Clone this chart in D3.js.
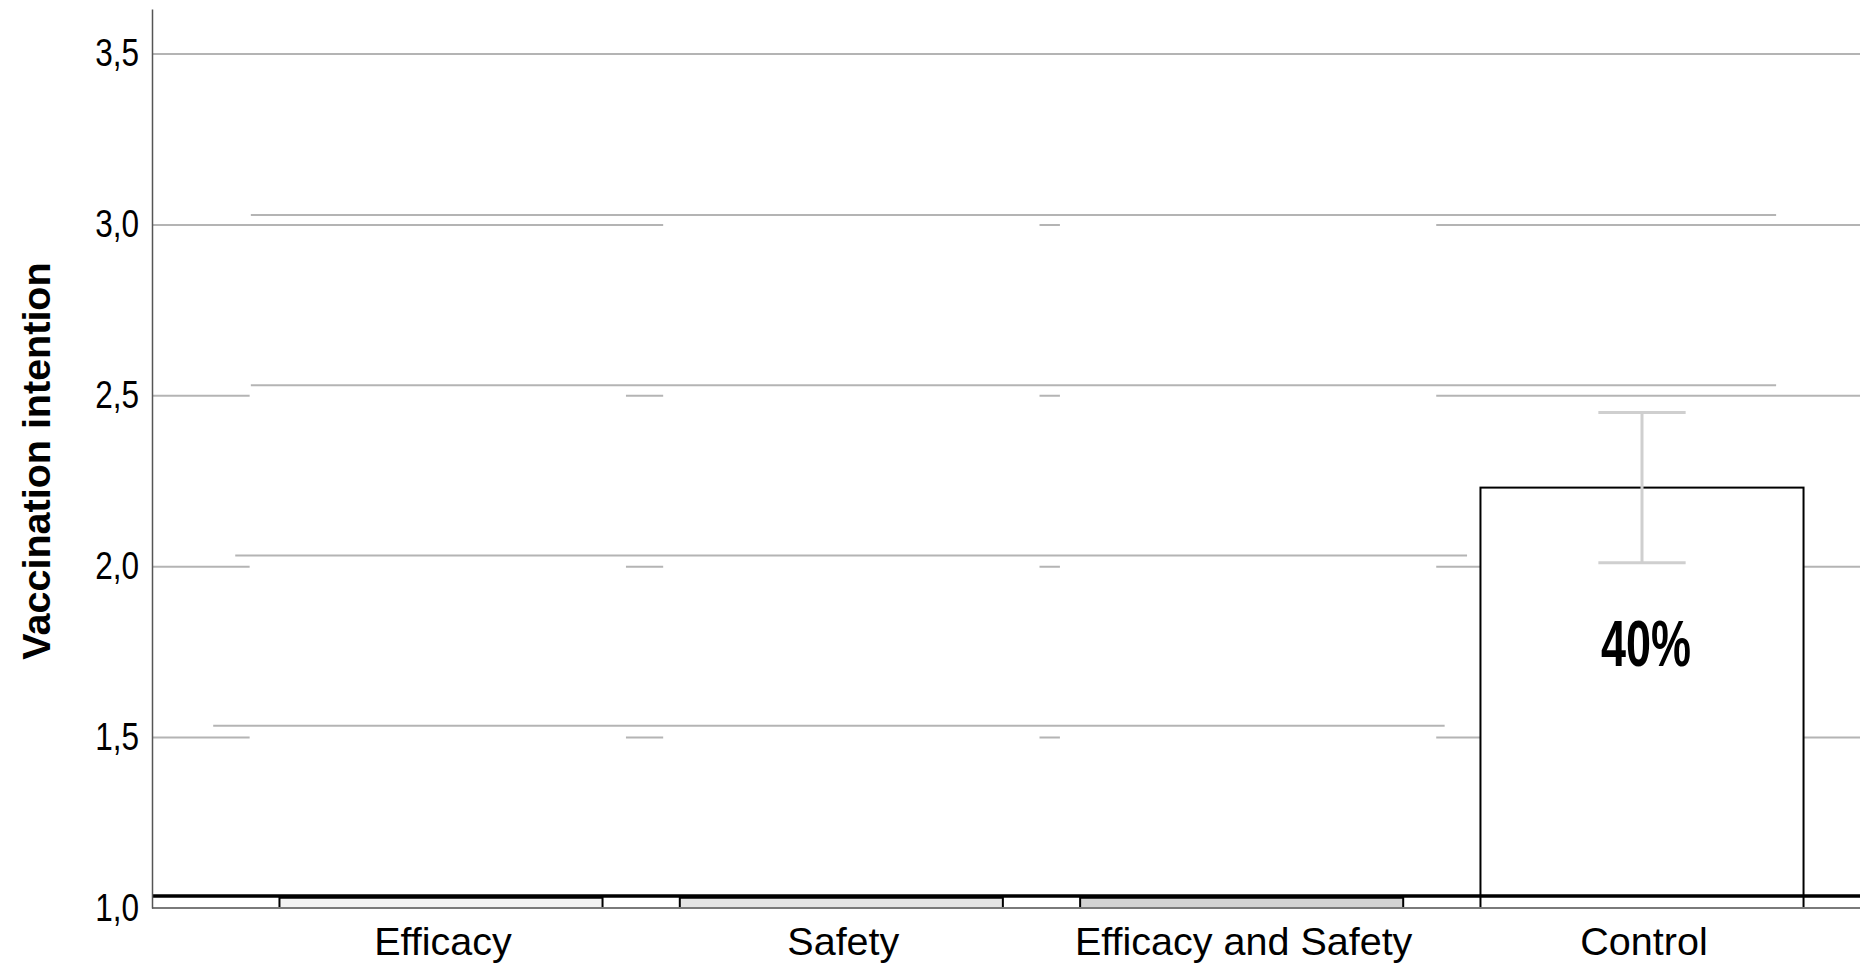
<!DOCTYPE html>
<html>
<head>
<meta charset="utf-8">
<script src="https://cdnjs.cloudflare.com/ajax/libs/d3/7.8.5/d3.min.js"></script>
<style>
  body { margin: 0; background: #fff; }
  svg { display: block; }
</style>
</head>
<body>
<script>
//// Data ///////////////////////////////////////
const categories = ["Efficacy", "Safety", "Efficacy and Safety", "Control"]
const means = [1.03, 1.03, 1.03, 2.23]
const barFills = ["#f2f2f2", "#e4e4e4", "#d3d3d3", "#ffffff"]
const ciLow = [null, null, null, 2.01]
const ciHigh = [null, null, null, 2.45]
const barLabels = ["", "", "", "40%"]
const yTicks = [1.0, 1.5, 2.0, 2.5, 3.0, 3.5]

// second (shifted) layer that SPSS left behind the bars
const layer2Ticks = [3.0, 2.5, 2.0, 1.5]
const layer2From = [-0.475, -0.475, -0.514, -0.569]
const layer2To = [3.335, 3.335, 2.563, 2.507]
// white blank boxes hiding the main gridlines
const blankCenters = [-0.008, 1.025, 2.016]
const blankTops = [2.75, 3.25, 3.25]

//// Layout ///////////////////////////////////////
const WIDTH = 1860
const HEIGHT = 966
const left = 152
const right = 1860
const barHalf = 0.4035
const blankHalf = 0.47
const narrow = 0.83

const svg = d3.select("body").append("svg")
    .attr("width", WIDTH)
    .attr("height", HEIGHT)

// category units -> px
const x = d3.scaleLinear().domain([0, 3]).range([441, 1642])
const y = d3.scaleLinear().domain([1, 3.63]).range([908, 9.1])
const y2 = d3.scaleLinear().domain([1, 3]).range([896, 215])

// main gridlines
const grid = svg.append("g")
    .attr("transform", `translate(${left},0)`)
    .call(d3.axisLeft(y).tickValues(yTicks.slice(1)).tickSize(-(right - left)).tickFormat(""))
grid.select(".domain").remove()
grid.selectAll("line").attr("stroke", "#b4b4b4").attr("stroke-width", 2)

// blank boxes
svg.selectAll("rect.blank")
    .data(blankCenters)
    .join("rect")
    .attr("class", "blank")
    .attr("x", d => x(d - blankHalf))
    .attr("width", 2 * (x(blankHalf) - x(0)))
    .attr("y", (d, i) => y(blankTops[i]))
    .attr("height", (d, i) => y(1.2) - y(blankTops[i]))
    .attr("fill", "#fff")

// shifted gridlines
svg.selectAll("line.l2")
    .data(layer2Ticks)
    .join("line")
    .attr("class", "l2")
    .attr("x1", (d, i) => x(layer2From[i]))
    .attr("x2", (d, i) => x(layer2To[i]))
    .attr("y1", d => y2(d))
    .attr("y2", d => y2(d))
    .attr("stroke", "#b4b4b4")
    .attr("stroke-width", 2)

// bars
svg.selectAll("rect.bar")
    .data(categories)
    .join("rect")
    .attr("class", "bar")
    .attr("x", (d, i) => x(i - barHalf))
    .attr("width", x(barHalf) - x(-barHalf))
    .attr("y", (d, i) => y(means[i]))
    .attr("height", (d, i) => y(1) - y(means[i]))
    .attr("fill", (d, i) => barFills[i])
    .attr("stroke", "#000")
    .attr("stroke-width", 2)

// error bars
const capHalf = 0.109
categories.forEach((c, i) => {
    if (ciLow[i] == null) return
    const g = svg.append("g").attr("stroke", "#cfcfcf").attr("stroke-width", 3)
    g.append("line").attr("x1", x(i)).attr("x2", x(i)).attr("y1", y(ciLow[i])).attr("y2", y(ciHigh[i]))
    g.append("line").attr("x1", x(i - capHalf)).attr("x2", x(i + capHalf)).attr("y1", y(ciLow[i])).attr("y2", y(ciLow[i]))
    g.append("line").attr("x1", x(i - capHalf)).attr("x2", x(i + capHalf)).attr("y1", y(ciHigh[i])).attr("y2", y(ciHigh[i]))
})

// bar labels
svg.selectAll("text.blabel")
    .data(barLabels)
    .join("text")
    .attr("class", "blabel")
    .filter(d => d !== "")
    .attr("x", (d, i) => x(3) + 4)
    .attr("y", 666)
    .attr("text-anchor", "middle")
    .attr("font-family", "'Liberation Sans', sans-serif")
    .attr("font-weight", "bold")
    .attr("font-size", 64)
    .attr("textLength", 90)
    .attr("lengthAdjust", "spacingAndGlyphs")
    .text(d => d)

// baseline of the shifted layer
svg.append("line")
    .attr("x1", left).attr("x2", right)
    .attr("y1", y2(1)).attr("y2", y2(1))
    .attr("stroke", "#000").attr("stroke-width", 3.5)

// x axis line
svg.append("line")
    .attr("x1", left).attr("x2", right)
    .attr("y1", y(1)).attr("y2", y(1))
    .attr("stroke", "#7a7a7a").attr("stroke-width", 2)

// y axis
const yAxis = svg.append("g")
    .attr("transform", `translate(${left},0)`)
    .call(d3.axisLeft(y).tickValues(yTicks).tickSize(0).tickPadding(13)
        .tickFormat(d => d3.format(".1f")(d).replace(".", ",")))
yAxis.select(".domain").attr("stroke", "#555").attr("stroke-width", 1.5)
yAxis.selectAll("text")
    .attr("font-family", "'Liberation Sans', Arial, sans-serif")
    .attr("font-size", 38)
    .attr("fill", "#000")
    .attr("x", -13 / narrow)
    .attr("transform", function () {
        return d3.select(this.parentNode).attr("transform") ? `scale(${narrow},1)` : null
    })

// category labels
svg.selectAll("text.cat")
    .data(categories)
    .join("text")
    .attr("class", "cat")
    .attr("x", (d, i) => x(i) + 2)
    .attr("y", 955)
    .attr("text-anchor", "middle")
    .attr("font-family", "'Liberation Sans', Arial, sans-serif")
    .attr("font-size", 39.5)
    .text(d => d)

// y title
svg.append("text")
    .attr("transform", "translate(50,461) rotate(-90)")
    .attr("text-anchor", "middle")
    .attr("font-family", "'Liberation Sans', Arial, sans-serif")
    .attr("font-weight", "bold")
    .attr("font-size", 39.5)
    .text("Vaccination intention")
</script>
</body>
</html>
